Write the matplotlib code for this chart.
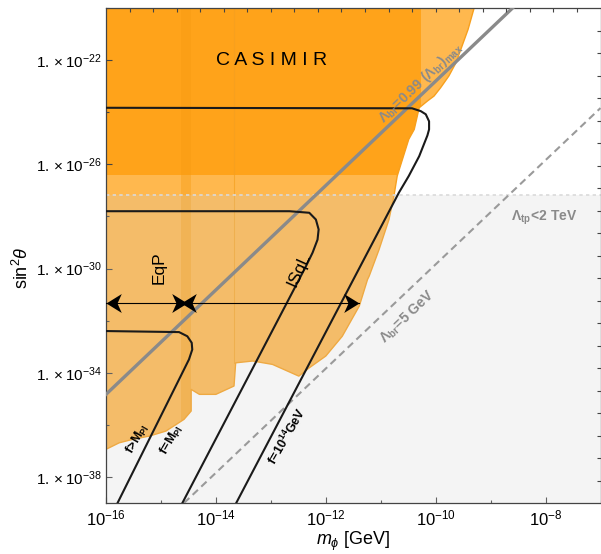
import numpy as np
import matplotlib
matplotlib.use('Agg')
import matplotlib.pyplot as plt
from matplotlib.patches import Polygon, Rectangle
from matplotlib.path import Path
from matplotlib.ticker import FixedLocator, NullFormatter

plt.rcParams['font.family'] = 'Liberation Sans'
plt.rcParams['mathtext.fontset'] = 'custom'
plt.rcParams['mathtext.rm'] = 'Liberation Sans'
plt.rcParams['mathtext.it'] = 'Liberation Sans:italic'
plt.rcParams['mathtext.bf'] = 'Liberation Sans:bold'

# everything below is log10(m_phi / GeV) and log10(sin^2 theta)
x_lim = (-16, -7)
y_lim = (-39, -20)

# outer edge of the excluded (orange) region, from the top going down to the left edge
excl_logm = [-9.30, -9.41, -9.52, -9.63, -9.76, -9.91, -10.03, -10.15, -10.30, -10.39, -10.49,
             -10.70, -10.76, -10.85, -11.03, -11.21, -11.24, -11.39, -11.70, -12.00, -12.30,
             -12.49, -12.97, -13.33, -13.64, -13.67, -14.00, -14.30, -14.45, -14.45, -14.58,
             -14.91, -15.21, -15.52, -15.76, -16.0]
excl_logs = [-20.0, -20.82, -21.46, -22.10, -22.61, -23.06, -23.38, -23.57, -23.83, -24.66, -25.04,
             -26.45, -27.22, -28.12, -29.27, -30.29, -30.42, -31.44, -32.60, -33.36, -33.81,
             -34.13, -33.68, -33.55, -33.62, -34.51, -34.83, -34.83, -34.64, -35.47, -35.79,
             -36.24, -36.43, -36.56, -36.69, -36.94]

casimir_logm_max = -10.27
casimir_logs_min = -26.41
eqp_strip_logm = [-14.63, -14.45]
edge_logm = -13.67
edge_logs_min = -33.62
tp_logs = -27.16   # Lambda_tp < 2 TeV below this

# Lambda_br = 0.99 (Lambda_br)max and Lambda_br = 5 GeV
lmax_logm = [-16.0, -8.6]
lmax_logs = [-34.83, -20.0]
l5_logm = [-14.58, -7.0]
l5_logs = [-39.0, -23.84]

# f contours
fpl_logm = [-16.0, -14.67, -14.52, -14.44, -14.43, -14.49, -14.61, -15.79]
fpl_logs = [-32.40, -32.44, -32.60, -32.85, -33.11, -33.49, -34.00, -39.0]
fmid_logm = [-16.0, -12.66, -12.30, -12.18, -12.13, -12.15, -12.24, -12.36, -14.61]
fmid_logs = [-27.80, -27.80, -27.86, -28.12, -28.50, -28.89, -29.39, -29.91, -39.0]
f14_logm = [-16.0, -10.43, -10.27, -10.18, -10.12, -10.12, -10.15, -10.30, -10.49, -10.67, -13.63]
f14_logs = [-23.83, -23.85, -23.96, -24.08, -24.35, -24.66, -24.89, -25.69, -26.45, -27.09, -39.0]

# reach arrows
arrow_logs = -31.32
eqp_range = [-16.0, -14.53]
isql_range = [-14.64, -11.39]

xmaj = [-16, -14, -12, -10, -8]
xmin = [-15, -13, -11, -9, -7]
ymaj = [-38, -34, -30, -26, -22]
ymin = [-36, -32, -28, -24, -20]
# the top and right frame ticks are evenly spaced and unrelated to the log scales
top_ticks = list(range(1, 21))
right_ticks = list(range(1, 22))

def p(v):
    return 10.0 ** np.asarray(v, dtype=float)

fig = plt.figure(figsize=(6.01, 5.54), dpi=100)
ax = fig.add_axes([106 / 601, 51 / 554, 494.5 / 601, 495 / 554])
ax.set_xscale('log')
ax.set_yscale('log')
ax.set_xlim(p(x_lim[0]), p(x_lim[1]))
ax.set_ylim(p(y_lim[0]), p(y_lim[1]))

# orange region
vx = list(p(excl_logm)) + [p(-16.0)]
vy = list(p(excl_logs)) + [p(-20.0)]
region = Polygon(np.column_stack([vx, vy]), closed=True, fc='#FFB84E', ec='none', zorder=1)
ax.add_patch(region)

cas = Rectangle((p(-16.5), p(casimir_logs_min)), p(casimir_logm_max) - p(-16.5),
                p(-19) - p(casimir_logs_min), fc='#FFA31A', ec='none', zorder=1.2)
ax.add_patch(cas)
cas.set_clip_path(region)

strip = Rectangle((p(eqp_strip_logm[0]), p(-40)), p(eqp_strip_logm[1]) - p(eqp_strip_logm[0]),
                  p(-19) - p(-40), fc='#F59A10', ec='none', alpha=0.4, zorder=1.3)
ax.add_patch(strip)
strip.set_clip_path(region)

ax.plot(p([edge_logm, edge_logm]), p([-20.0, edge_logs_min]), color='#F5A020', lw=0.8,
        alpha=0.7, zorder=1.4)
ax.plot(p(excl_logm), p(excl_logs), color='#F7A01E', lw=1.0, zorder=1.5)

# Lambda_tp < 2 TeV band
ax.axhspan(p(y_lim[0] - 1), p(tp_logs), fc='#CFCFCF', alpha=0.21, lw=0, zorder=2)
ax.axhline(p(tp_logs), color='#DADADA', ls=(0, (2, 2)), lw=1.2, zorder=2.1)

ax.plot(p(lmax_logm), p(lmax_logs), color='#8A8A8A', lw=2.4, zorder=3)
ax.plot(p(l5_logm), p(l5_logs), color='#9A9A9A', lw=1.5, ls=(0, (3.5, 2.2)), zorder=3)

for lm, ls_ in [(fpl_logm, fpl_logs), (fmid_logm, fmid_logs), (f14_logm, f14_logs)]:
    ax.plot(p(lm), p(ls_), color='#1A1A1A', lw=1.5, zorder=4, solid_joinstyle='round')

# arrows with swept heads
head_r = Path([(0, 0), (-1, 0.62), (-0.72, 0), (-1, -0.62), (0, 0)],
              [Path.MOVETO, Path.LINETO, Path.LINETO, Path.LINETO, Path.CLOSEPOLY])
head_l = Path([(0, 0), (1, 0.62), (0.72, 0), (1, -0.62), (0, 0)],
              [Path.MOVETO, Path.LINETO, Path.LINETO, Path.LINETO, Path.CLOSEPOLY])
for lo, hi in [eqp_range, isql_range]:
    ax.plot(p([lo, hi]), p([arrow_logs, arrow_logs]), color='black', lw=0.8, zorder=4)
    ax.plot(p(lo), p(arrow_logs), marker=head_l, ms=22, color='black', mew=0, zorder=4.5,
            clip_on=False)
    ax.plot(p(hi), p(arrow_logs), marker=head_r, ms=22, color='black', mew=0, zorder=4.5,
            clip_on=False)

# texts
ax.text(p(-12.99), p(-22.0), 'C A S I M I R', fontsize=14, ha='center', va='center', zorder=5)
ax.text(p(-15.03), p(-29.96), 'EqP', fontsize=12.5, rotation=90, ha='center', va='center', zorder=5)
ax.text(p(-12.50), p(-30.03), 'ISqL', fontsize=12.5, rotation=66, ha='center', va='center',
        rotation_mode='anchor', zorder=5)
ax.text(p(-10.27), p(-22.87), r'$\mathbf{\Lambda_{br}\!=\!0.99\ (\Lambda_{br})_{max}}$',
        fontsize=10, color='#8A8A8A', rotation=43.6, ha='center', va='center',
        rotation_mode='anchor', zorder=5)
ax.text(p(-8.03), p(-28.04), r'$\mathbf{\Lambda_{tp}\!<\!2\ TeV}$', fontsize=10,
        color='#8A8A8A', ha='center', va='center', zorder=5)
ax.text(p(-10.52), p(-31.88), r'$\mathbf{\Lambda_{br}\!=\!5\ GeV}$', fontsize=10,
        color='#8A8A8A', rotation=43.6, ha='center', va='center', rotation_mode='anchor', zorder=5)
ax.text(p(-15.43), p(-36.56), r'$\mathbf{f\!>\!M_{Pl}}$', fontsize=9, rotation=60,
        ha='center', va='center', rotation_mode='anchor', zorder=5)
ax.text(p(-14.80), p(-36.59), r'$\mathbf{f\!=\!M_{Pl}}$', fontsize=9, rotation=60,
        ha='center', va='center', rotation_mode='anchor', zorder=5)
ax.text(p(-12.70), p(-36.46), r'$\mathbf{f\!=\!10^{14}GeV}$', fontsize=9, rotation=60,
        ha='center', va='center', rotation_mode='anchor', zorder=5)

# ticks and frame
ax.xaxis.set_major_locator(FixedLocator(p(xmaj)))
ax.xaxis.set_minor_locator(FixedLocator(p(xmin)))
ax.yaxis.set_major_locator(FixedLocator(p(ymaj)))
ax.yaxis.set_minor_locator(FixedLocator(p(ymin)))
ax.set_xticklabels([r'$10^{%d}$' % v for v in xmaj])
ax.set_yticklabels([r'$1.\times10^{%d}$' % v for v in ymaj])
ax.xaxis.set_minor_formatter(NullFormatter())
ax.yaxis.set_minor_formatter(NullFormatter())
ax.tick_params(axis='x', which='major', labelsize=12, pad=4)
ax.tick_params(axis='y', which='major', labelsize=11, pad=3)
ax.tick_params(which='both', direction='in', top=False, right=False, color='#444444', width=0.8)
ax.tick_params(which='major', length=4.5)
ax.tick_params(which='minor', length=2.5)
for s in ax.spines.values():
    s.set_color('#444444')
    s.set_linewidth(0.9)

axt = ax.twiny()
axt.set_xlim(0, 21)
axt.set_xticks(top_ticks)
axt.tick_params(axis='x', direction='in', length=3, width=0.8, color='#444444',
                labeltop=False, top=True, bottom=False)
axr = ax.twinx()
axr.set_yscale('linear')
axr.set_ylim(0, 22)
axr.set_yticks(right_ticks)
axr.tick_params(axis='y', direction='in', length=3, width=0.8, color='#444444',
                labelright=False, right=True, left=False)
for a in (axt, axr):
    for s in a.spines.values():
        s.set_visible(False)

fig.text(353 / 601, 1 - 541 / 554, r'$m_\phi$ [GeV]', fontsize=13, ha='center', va='center')
fig.text(22 / 601, 1 - 268 / 554, r'sin$^2\mathit{\theta}$', fontsize=13, rotation=90,
         ha='center', va='center')

fig.savefig('out.png', dpi=100)
